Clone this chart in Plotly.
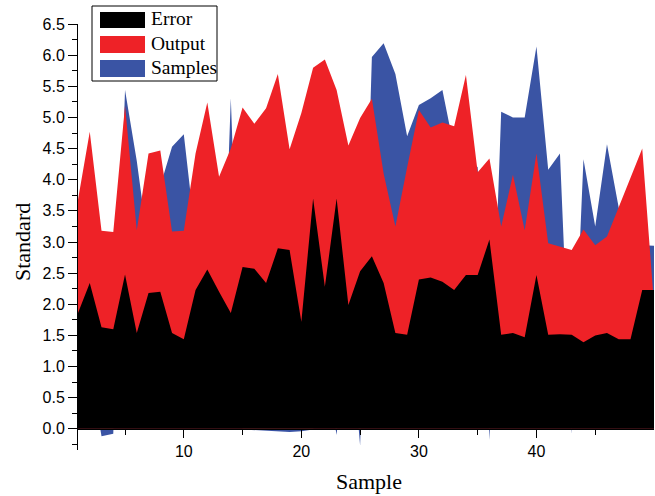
import plotly.graph_objects as go

samples_x = list(range(1, 51))

error = [1.86, 2.34, 1.63, 1.60, 2.48, 1.54, 2.18, 2.20, 1.54, 1.44,
         2.23, 2.56, 2.20, 1.86, 2.60, 2.57, 2.34, 2.90, 2.87, 1.72,
         3.70, 2.28, 3.70, 1.99, 2.53, 2.77, 2.34, 1.54, 1.51, 2.40,
         2.43, 2.36, 2.23, 2.47, 2.47, 3.04, 1.51, 1.54, 1.47, 2.47,
         1.51, 1.52, 1.51, 1.39, 1.50, 1.54, 1.44, 1.44, 2.23, 2.23]

output = [3.68, 4.77, 3.18, 3.16, 5.19, 3.19, 4.42, 4.47, 3.17, 3.18,
          4.42, 5.24, 4.05, 4.50, 5.16, 4.90, 5.15, 5.70, 4.49, 5.07,
          5.80, 5.93, 5.44, 4.55, 4.99, 5.30, 4.10, 3.25, 4.20, 5.12,
          4.84, 4.92, 4.86, 5.68, 4.12, 4.34, 3.25, 4.08, 3.19, 4.42,
          2.98, 2.93, 2.87, 3.20, 2.95, 3.09, 3.55, 4.03, 4.50, 2.00]

samples = [2.50, 1.00, -0.12, -0.08, 5.44, 4.30, 2.90, 3.90, 4.53, 4.73,
           3.07, 2.00, -0.01, 5.31, -0.01, -0.02, -0.03, -0.05, -0.05, -0.04,
           -0.01, 1.00, -0.10, 2.00, -0.27, 5.97, 6.19, 5.70, 4.70, 5.20,
           5.31, 5.44, 4.50, 4.40, 4.20, -0.18, 5.09, 5.00, 5.00, 6.14,
           4.16, 4.42, -0.08, 4.33, 3.25, 4.57, 3.55, 3.00, 2.95, 2.94]

series_names = ["Error", "Output", "Samples"]
series_colors = ["#000000", "#EE2227", "#3A54A4"]

x_ticks = [10, 20, 30, 40]
x_minor = [5, 15, 25, 35, 45]

W, H = 655, 496
L, R, T, B = 78, 1, 24, 46
YMIN, YMAX = -0.34, 6.5

fig = go.Figure()
for name, vals, col in [("Samples", samples, series_colors[2]),
                        ("Output", output, series_colors[1]),
                        ("Error", error, series_colors[0])]:
    fig.add_trace(go.Scatter(x=samples_x, y=vals, name=name, mode="lines",
                             fill="tozeroy", fillcolor=col,
                             line=dict(width=0, color=col),
                             showlegend=False, hoverinfo="x+y+name"))

def px(xp):
    return (xp - L) / (W - L - R)

def py(yp):
    return (H - B - yp) / (H - T - B)

shapes = []
annotations = []
# legend box
shapes.append(dict(type="rect", xref="paper", yref="paper",
                   x0=px(92), x1=px(217), y0=py(81), y1=py(6),
                   line=dict(color="black", width=1), fillcolor="white",
                   layer="above"))
rows = [(12, 28), (36, 53), (60, 77)]
for (y0, y1), nm, col in zip(rows, series_names, series_colors):
    shapes.append(dict(type="rect", xref="paper", yref="paper",
                       x0=px(100), x1=px(145), y0=py(y1), y1=py(y0),
                       line=dict(width=0), fillcolor=col, layer="above"))
    annotations.append(dict(text=nm, xref="paper", yref="paper",
                            x=px(149), y=py((y0 + y1) / 2 - 1),
                            xanchor="left", yanchor="middle", showarrow=False,
                            font=dict(family="Liberation Serif", size=19.5, color="black")))

annotations.append(dict(text="Sample", xref="paper", yref="paper",
                        x=px(369), y=py(481), xanchor="center", yanchor="middle",
                        showarrow=False,
                        font=dict(family="Liberation Serif", size=22, color="black")))
annotations.append(dict(text="Standard", xref="paper", yref="paper",
                        x=px(22), y=py(242), xanchor="center", yanchor="middle",
                        textangle=-90, showarrow=False,
                        font=dict(family="Liberation Serif", size=22, color="black")))

fig.update_layout(
    width=W, height=H,
    margin=dict(l=L, r=R, t=T, b=B, pad=0),
    plot_bgcolor="white", paper_bgcolor="white",
    showlegend=False,
    shapes=shapes, annotations=annotations,
    xaxis=dict(range=[1, 50], tickvals=x_ticks, ticks="outside", ticklen=8,
               tickwidth=1, tickcolor="black",
               minor=dict(tickvals=x_minor, ticks="outside", ticklen=5,
                          tickcolor="black", tickwidth=1),
               showline=True, linecolor="black", linewidth=1,
               anchor="free", position=(0 - YMIN) / (YMAX - YMIN),
               showgrid=False, zeroline=False,
               tickfont=dict(family="Liberation Sans", size=16, color="black")),
    yaxis=dict(range=[YMIN, YMAX + 0.001], tick0=0, dtick=0.5, tickformat=".1f",
               ticks="outside", ticklen=9, tickwidth=1, tickcolor="black",
               minor=dict(dtick=0.25, tick0=0, ticks="outside", ticklen=5,
                          tickcolor="black", tickwidth=1),
               showline=True, linecolor="black", linewidth=1,
               showgrid=False, zeroline=False,
               tickfont=dict(family="Liberation Sans", size=16, color="black")),
)

fig.write_html(
    "out.html",
    config={"displayModeBar": False},
    post_script=("document.documentElement.style.margin='0';"
                 "document.body.style.margin='0';"
                 "document.body.style.padding='0';"
                 "document.documentElement.style.overflow='hidden';"
                 "document.body.style.overflow='hidden';"),
)
